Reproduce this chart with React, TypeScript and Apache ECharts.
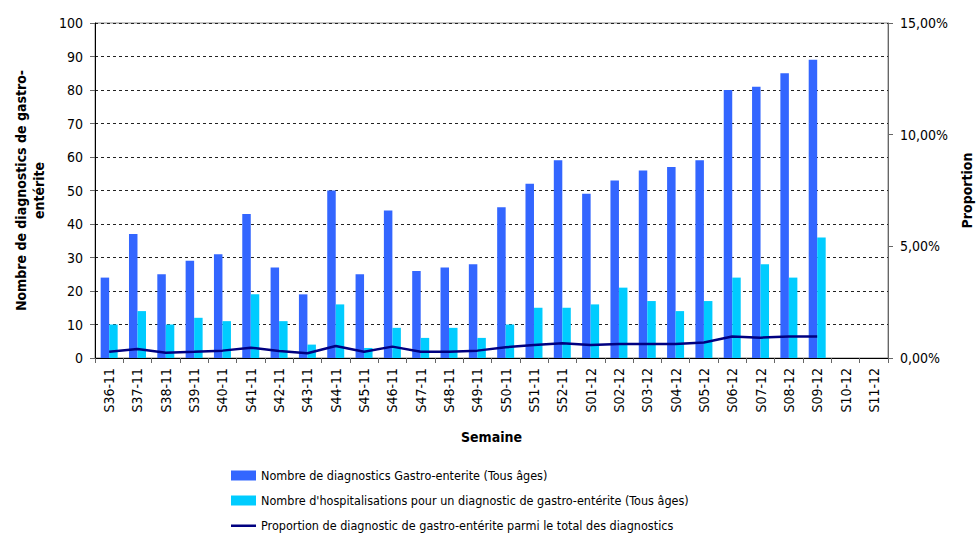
import React, { useEffect, useRef } from "react";
import * as echarts from "echarts";

const categories = [
  "S36-11", "S37-11", "S38-11", "S39-11", "S40-11", "S41-11", "S42-11", "S43-11",
  "S44-11", "S45-11", "S46-11", "S47-11", "S48-11", "S49-11", "S50-11", "S51-11",
  "S52-11", "S01-12", "S02-12", "S03-12", "S04-12", "S05-12", "S06-12", "S07-12",
  "S08-12", "S09-12", "S10-12", "S11-12",
];
const diagnostics = [24, 37, 25, 29, 31, 43, 27, 19, 50, 25, 44, 26, 27, 28, 45, 52, 59, 49, 53, 56, 57, 59, 80, 81, 85, 89, null, null];
const hospitalisations = [10, 14, 10, 12, 11, 19, 11, 4, 16, 3, 9, 6, 9, 6, 10, 15, 15, 16, 21, 17, 14, 17, 24, 28, 24, 36, null, null];
const proportion = [0.28, 0.4, 0.24, 0.28, 0.33, 0.46, 0.31, 0.21, 0.54, 0.28, 0.51, 0.28, 0.28, 0.33, 0.48, 0.58, 0.66, 0.58, 0.63, 0.63, 0.63, 0.69, 0.96, 0.91, 0.96, 0.96, null, null];

const seriesNames = [
  "Nombre de diagnostics Gastro-enterite (Tous âges)",
  "Nombre d'hospitalisations pour un diagnostic de gastro-entérite (Tous âges)",
  "Proportion de diagnostic de gastro-entérite parmi le total des diagnostics",
];

const FONT = "DejaVu Sans Condensed, DejaVu Sans, sans-serif";
const LINE_ICON = "path://M0,0 L0.01,0 L0.01,0.01 Z M0,4 L25,4 L25,6.5 L0,6.5 Z M0,10 L0.01,10 L0.01,9.99 Z";

export default function App() {
  const ref = useRef<HTMLDivElement>(null);
  useEffect(() => {
    if (!ref.current) return;
    const chart = echarts.init(ref.current, undefined, { renderer: "svg" });
    chart.setOption({
      animation: false,
      textStyle: { fontFamily: FONT, color: "#000" },
      grid: {
        left: 95, right: 90, top: 23, bottom: 175,
        show: true, borderColor: "#888", borderWidth: 1,
        outerBoundsMode: "none", containLabel: false,
      },
      legend: {
        orient: "vertical",
        left: 226,
        top: 464,
        height: 100,
        itemGap: 12,
        itemWidth: 25,
        itemHeight: 10,
        textStyle: { fontFamily: FONT, fontSize: 12.5, color: "#000", padding: [0, 0, 0, 0] },
        data: [
          { name: seriesNames[0], icon: "rect" },
          { name: seriesNames[1], icon: "rect" },
          { name: seriesNames[2], icon: LINE_ICON },
        ],
      },
      xAxis: {
        type: "category",
        data: categories,
        name: "Semaine",
        nameLocation: "middle",
        nameGap: 72,
        nameTextStyle: { fontFamily: FONT, fontWeight: "bold", fontSize: 14, color: "#000" },
        axisLine: { lineStyle: { color: "#000" } },
        axisTick: { show: true, alignWithLabel: false, length: 5, lineStyle: { color: "#666" } },
        axisLabel: { rotate: 90, fontFamily: FONT, fontSize: 14, color: "#000", margin: 10, interval: 0 },
      },
      yAxis: [
        {
          type: "value",
          min: 0,
          max: 100,
          interval: 10,
          name: "Nombre de diagnostics de gastro-\nentérite",
          nameLocation: "middle",
          nameGap: 46,
          nameRotate: 90,
          nameTextStyle: { fontFamily: FONT, fontWeight: "bold", fontSize: 14, color: "#000", lineHeight: 18 },
          axisLine: { show: true, lineStyle: { color: "#000" } },
          axisTick: { show: true, length: 5, lineStyle: { color: "#666" } },
          axisLabel: { fontFamily: FONT, fontSize: 14, color: "#000", margin: 12 },
          splitLine: { show: true, lineStyle: { color: "#222", type: [3, 3], width: 1 } },
        },
        {
          type: "value",
          min: 0,
          max: 15,
          interval: 5,
          name: "Proportion",
          nameLocation: "middle",
          nameGap: 72,
          nameRotate: 90,
          nameTextStyle: { fontFamily: FONT, fontWeight: "bold", fontSize: 14, color: "#000" },
          axisLine: { show: true, lineStyle: { color: "#666" } },
          axisTick: { show: true, length: 5, lineStyle: { color: "#666" } },
          axisLabel: {
            fontFamily: FONT,
            fontSize: 14,
            color: "#000",
            margin: 12,
            formatter: (v: number) => v.toFixed(2).replace(".", ",") + "%",
          },
          splitLine: { show: false },
        },
      ],
      series: [
        {
          name: seriesNames[0],
          type: "bar",
          data: diagnostics,
          barGap: "0%",
          barCategoryGap: "40%",
          itemStyle: { color: "#3366FF" },
        },
        {
          name: seriesNames[1],
          type: "bar",
          data: hospitalisations,
          itemStyle: { color: "#00CCFF" },
        },
        {
          name: seriesNames[2],
          type: "line",
          yAxisIndex: 1,
          data: proportion,
          symbol: "none",
          lineStyle: { color: "#000080", width: 2.5 },
          itemStyle: { color: "#000080" },
        },
      ],
    });
    return () => chart.dispose();
  }, []);
  return <div ref={ref} style={{ width: 978, height: 533, position: "absolute", left: 0, top: 0 }} />;
}
